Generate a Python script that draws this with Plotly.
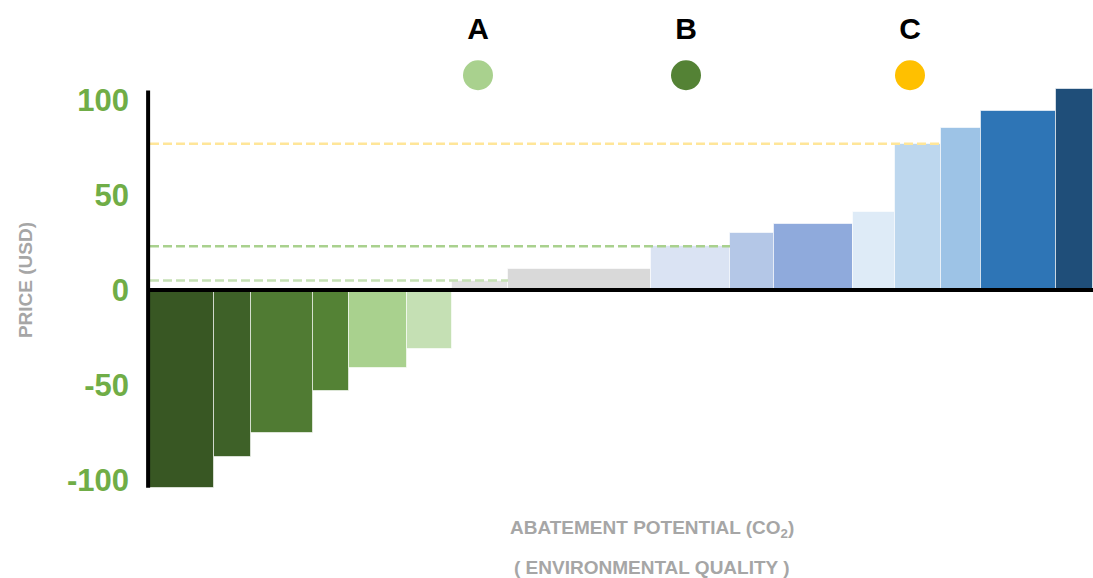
import numpy as np
import plotly.graph_objects as go

# ---- data ----
abatement = [64, 37, 62, 36, 58, 45, 56, 143, 79, 44, 79, 42, 46, 40, 75, 37]
cost = [-104, -88, -75, -53, -41, -31, 5, 11, 23, 30, 35, 41, 77, 85, 94, 106]
bar_colors = ["#385723", "#3e6128", "#507b33", "#548235", "#a9d18e", "#c5e0b4",
              "#e2e2e2", "#d9d9d9", "#dae3f3", "#b4c7e7", "#8faadc", "#deebf7",
              "#bdd7ee", "#9dc3e6", "#2e75b6", "#1f4e79"]

scenarios = ["A", "B", "C"]
scenario_price = [5, 23, 77]
scenario_extent = [358, 580, 791]          # abatement reached by each price line
scenario_colors = ["#a9d18e", "#548235", "#ffc000"]
scenario_line_colors = ["#c5e0b4", "#a9d18e", "#ffe699"]
scenario_x = [328, 536, 760]
marker_level = 113
label_level = 136

y_ticks = [-100, -50, 0, 50, 100]
y_tick_text = ["-100", "-50", "0", "50", "100"]

FONT = "Liberation Sans, Arial, sans-serif"

w = np.array(abatement, dtype=float)
right = np.cumsum(w)
centers = right - w / 2
total = float(right[-1])

fig = go.Figure()

fig.add_trace(go.Bar(
    x=centers, y=cost, width=w,
    marker=dict(color=bar_colors, line=dict(color="rgba(255,255,255,0.6)", width=1)),
    hoverinfo="skip", showlegend=False,
))

for p, ext, lc in zip(scenario_price, scenario_extent, scenario_line_colors):
    fig.add_trace(go.Scatter(
        x=[0, ext], y=[p, p], mode="lines",
        line=dict(color=lc, width=2.5, dash="9px,4px"),
        showlegend=False, hoverinfo="skip",
    ))

fig.add_trace(go.Scatter(
    x=scenario_x, y=[marker_level] * 3, mode="markers",
    marker=dict(size=30, color=scenario_colors, line=dict(width=0)),
    showlegend=False, hoverinfo="skip",
))
fig.add_trace(go.Scatter(
    x=scenario_x, y=[label_level] * 3, mode="text", text=scenarios,
    textposition="middle center",
    textfont=dict(family=FONT, size=30, color="#000000", weight="bold"),
    showlegend=False, hoverinfo="skip",
))

# axis lines
fig.add_shape(type="line", xref="paper", yref="y", x0=0, x1=1, y0=0, y1=0,
              line=dict(color="#000000", width=4), layer="above")
fig.add_shape(type="line", xref="paper", yref="y", x0=-0.002, x1=-0.002, y0=-104, y1=105,
              line=dict(color="#000000", width=4), layer="above")

fig.add_annotation(text="PRICE (USD)", xref="paper", yref="y", x=-0.132, y=5,
                   xanchor="center", yanchor="middle",
                   textangle=-90, showarrow=False,
                   font=dict(family=FONT, size=19, color="#a6a6a6", weight="bold"))
fig.add_annotation(text="ABATEMENT POTENTIAL (CO<sub>2</sub>)", xref="paper", yref="paper",
                   x=0.532, y=-0.055, yanchor="middle", showarrow=False,
                   font=dict(family=FONT, size=19, color="#a6a6a6", weight="bold"))
fig.add_annotation(text="( ENVIRONMENTAL QUALITY )", xref="paper", yref="paper",
                   x=0.532, y=-0.133, yanchor="middle", showarrow=False,
                   font=dict(family=FONT, size=19, color="#a6a6a6", weight="bold"))

fig.update_layout(
    width=1093, height=578,
    margin=dict(l=150, r=0, t=0, b=77),
    paper_bgcolor="white", plot_bgcolor="white",
    bargap=0,
    xaxis=dict(range=[0, total], visible=False, fixedrange=True),
    yaxis=dict(range=[-111, 152.6], showgrid=False, zeroline=False, showline=False,
               tickvals=y_ticks, ticktext=y_tick_text, ticks="",
               ticklabelstandoff=20,
               tickfont=dict(family=FONT, size=31, color="#70ad47", weight="bold")),
)

fig.write_html("out.html")
